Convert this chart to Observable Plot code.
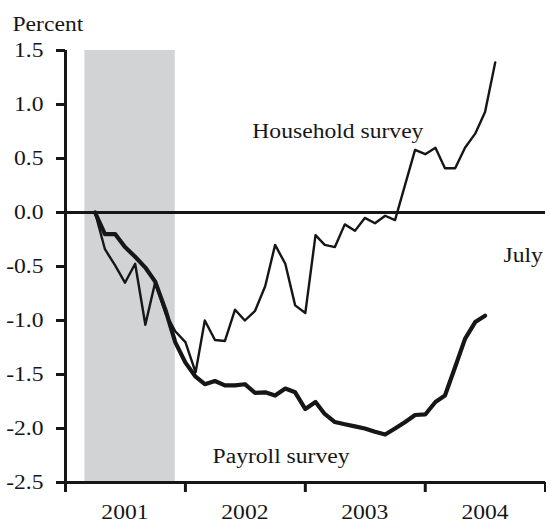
<!DOCTYPE html>
<html><head><meta charset="utf-8">
<script src="https://cdn.jsdelivr.net/npm/d3@7"></script>
<script src="https://cdn.jsdelivr.net/npm/@observablehq/plot@0.6"></script>
<style>html,body{margin:0;padding:0;background:#fff} svg{display:block}</style>
</head><body>
<div id="chart"></div>
<script>
// Months of observation (each value plotted at the end of its month)
const months = [
  "2001-03","2001-04","2001-05","2001-06","2001-07","2001-08","2001-09","2001-10","2001-11","2001-12",
  "2002-01","2002-02","2002-03","2002-04","2002-05","2002-06","2002-07","2002-08","2002-09","2002-10","2002-11","2002-12",
  "2003-01","2003-02","2003-03","2003-04","2003-05","2003-06","2003-07","2003-08","2003-09","2003-10","2003-11","2003-12",
  "2004-01","2004-02","2004-03","2004-04","2004-05","2004-06","2004-07"
];
// Percent change since March 2001
const household = [
  0, -0.34, -0.49, -0.65, -0.475, -1.04, -0.645, -0.93, -1.1, -1.2,
  -1.48, -1.0, -1.18, -1.19, -0.90, -1.0, -0.91, -0.68, -0.30, -0.475, -0.86, -0.93,
  -0.21, -0.30, -0.32, -0.11, -0.17, -0.05, -0.10, -0.03, -0.07, 0.26, 0.58, 0.54,
  0.60, 0.41, 0.41, 0.60, 0.73, 0.93, 1.39
];
const payroll = [
  0, -0.20, -0.20, -0.32, -0.41, -0.51, -0.64, -0.90, -1.20, -1.39,
  -1.52, -1.59, -1.56, -1.60, -1.60, -1.59, -1.67, -1.665, -1.695, -1.63, -1.665, -1.82,
  -1.755, -1.865, -1.94, -1.96, -1.98, -2.00, -2.03, -2.055, -2.00, -1.94, -1.875, -1.87,
  -1.755, -1.695, -1.43, -1.17, -1.015, -0.955
];
const yearLabels = ["2001","2002","2003","2004"];
const yearBoundaries = ["2001-01-01","2002-01-01","2003-01-01","2004-01-01","2005-01-01"];
const yTicks = [1.5, 1.0, 0.5, 0.0, -0.5, -1.0, -1.5, -2.0, -2.5];
const recession = [{start: "2001-03-01", end: "2001-12-01"}];
const annotations = [
  {text: "Household survey", date: "2003-04-10", value: 0.75},
  {text: "Payroll survey", date: "2002-10-19", value: -2.257},
  {text: "July", date: "2004-10-25", value: -0.40}
];

const parseMonth = d3.utcParse("%Y-%m");
const parseDay = d3.utcParse("%Y-%m-%d");
const endOfMonth = m => d3.utcMonth.offset(parseMonth(m), 1);

const householdRows = household.map((v, i) => ({date: endOfMonth(months[i]), value: v}));
const payrollRows = payroll.map((v, i) => ({date: endOfMonth(months[i]), value: v}));
const boundaryDates = yearBoundaries.map(parseDay);
const midYearDates = yearLabels.map(y => new Date(Date.UTC(+y, 6, 1)));
const annRows = annotations.map(a => ({...a, date: parseDay(a.date)}));
const ink = "#161616";

const chart = Plot.plot({
  width: 546,
  height: 522,
  marginLeft: 65,
  marginRight: 1,
  marginTop: 50,
  marginBottom: 40,
  style: {fontFamily: "'Liberation Serif', 'Times New Roman', serif", fontSize: "20px", color: ink, background: "#fff", overflow: "visible"},
  x: {type: "utc", domain: [boundaryDates[0], boundaryDates[boundaryDates.length - 1]]},
  y: {domain: [-2.5, 1.5]},
  marks: [
    Plot.rect(recession, {x1: d => parseDay(d.start), x2: d => parseDay(d.end), fill: "#d2d3d5"}),
    Plot.ruleY([0], {stroke: ink, strokeWidth: 3}),
    Plot.line(householdRows, {x: "date", y: "value", stroke: ink, strokeWidth: 2.4}),
    Plot.line(payrollRows, {x: "date", y: "value", stroke: ink, strokeWidth: 4.2}),
    Plot.axisY({ticks: yTicks, tickSize: 9, tickPadding: 13, tickFormat: d => d.toFixed(1), strokeWidth: 3, stroke: ink, label: null}),
    Plot.axisX({ticks: boundaryDates, tickSize: 10, tickFormat: () => "", strokeWidth: 3, stroke: ink, label: null}),
    Plot.axisX({ticks: midYearDates, tickSize: 0, tickPadding: 22, tickFormat: d3.utcFormat("%Y"), label: null}),
    Plot.ruleX([boundaryDates[0]], {stroke: ink, strokeWidth: 3}),
    Plot.ruleY([-2.5], {stroke: ink, strokeWidth: 3}),
    Plot.text(annRows, {x: "date", y: "value", text: "text", fill: ink}),
    Plot.text(["Percent"], {frameAnchor: "top-left", dx: -53, dy: -34, textAnchor: "start", fill: ink})
  ]
});
document.getElementById("chart").append(chart);
// Horizontally widen glyphs to match the reference's stretched serif type
for (const t of chart.querySelectorAll("text")) {
  const w = t.getComputedTextLength();
  if (w > 0 && !t.querySelector("tspan")) {
    t.setAttribute("textLength", (w * 1.18).toFixed(2));
    t.setAttribute("lengthAdjust", "spacingAndGlyphs");
  }
}
</script>
</body></html>
